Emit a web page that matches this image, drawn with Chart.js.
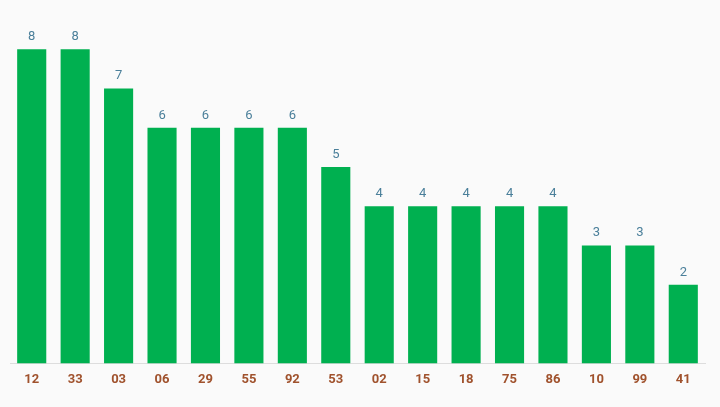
<!DOCTYPE html>
<html><head><script src="https://cdn.jsdelivr.net/npm/chart.js@4"></script>
<style>html,body{margin:0;background:#fafafa}#w{width:720px;height:407px}</style></head>
<body><div id="w"><canvas id="c"></canvas></div>
<script>
const categories=["12","33","03","06","29","55","92","53","02","15","18","75","86","10","99","41"];
const values=[8,8,7,6,6,6,6,5,4,4,4,4,4,3,3,2];
const labelsPlugin={id:'vl',afterDatasetsDraw(ch){const c=ch.ctx;const m=ch.getDatasetMeta(0);c.save();c.fillStyle='#4a7f9a';c.font='13px Roboto';c.textAlign='center';c.textBaseline='bottom';
m.data.forEach((b,i)=>c.fillText(values[i],b.x,b.y-6));c.restore();}};
new Chart(document.getElementById('c'),{type:'bar',data:{labels:categories,datasets:[{data:values,backgroundColor:'#00b050',barPercentage:0.67,categoryPercentage:1}]},
options:{responsive:true,maintainAspectRatio:false,animation:false,layout:{padding:{top:10,left:10,right:15,bottom:10}},
plugins:{legend:{display:false},tooltip:{enabled:false}},
scales:{y:{display:false,min:0,max:9},x:{grid:{display:false,drawTicks:false},border:{color:'#dddddd'},ticks:{color:'#a0522d',font:{family:'Roboto',size:13,weight:'bold'},padding:9}}}},plugins:[labelsPlugin]});
</script></body></html>
